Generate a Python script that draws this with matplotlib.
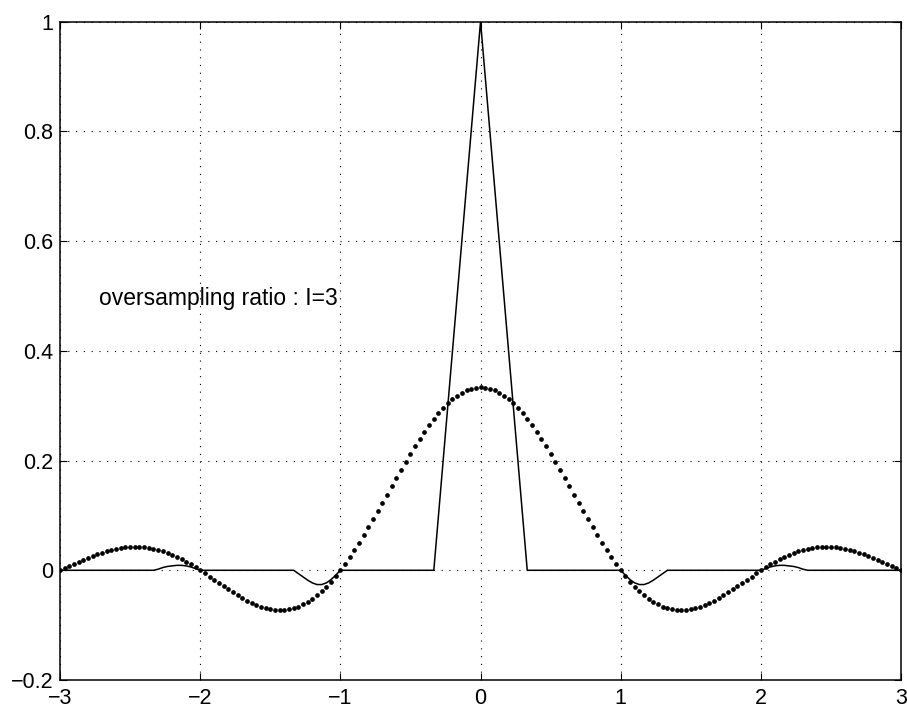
import numpy as np
import matplotlib
matplotlib.use("Agg")
import matplotlib.pyplot as plt

plt.rcParams['font.family'] = ['Liberation Sans', 'DejaVu Sans']

# dotted series: sampled on a grid of step 1/30 from -3 to 3 (181 samples)
dotted_x = np.linspace(-3, 3, 181)
dotted_y = [
    0.0, 0.0037, 0.0075, 0.0113, 0.0151, 0.0187, 0.0223, 0.0257, 0.0288, 0.0318,
    0.0345, 0.0368, 0.0388, 0.0404, 0.0417, 0.0424, 0.0428, 0.0427, 0.0420, 0.0410,
    0.0394, 0.0373, 0.0348, 0.0318, 0.0283, 0.0245, 0.0202, 0.0156, 0.0107, 0.0055,
    0.0, -0.0056, -0.0114, -0.0173, -0.0231, -0.0289, -0.0346, -0.0402, -0.0455, -0.0505,
    -0.0551, -0.0593, -0.0631, -0.0662, -0.0688, -0.0707, -0.0719, -0.0724, -0.0721, -0.0709,
    -0.0689, -0.0660, -0.0623, -0.0576, -0.0520, -0.0455, -0.0381, -0.0298, -0.0207, -0.0107,
    0.0, 0.0115, 0.0236, 0.0364, 0.0498, 0.0637, 0.0780, 0.0926, 0.1075, 0.1226,
    0.1378, 0.1530, 0.1682, 0.1832, 0.1979, 0.2122, 0.2261, 0.2395, 0.2523, 0.2644,
    0.2757, 0.2861, 0.2957, 0.3043, 0.3118, 0.3183, 0.3237, 0.3279, 0.3309, 0.3327,
    0.3333,
    0.3327, 0.3309, 0.3279, 0.3237, 0.3183, 0.3118, 0.3043, 0.2957, 0.2861, 0.2757,
    0.2644, 0.2523, 0.2395, 0.2261, 0.2122, 0.1979, 0.1832, 0.1682, 0.1530, 0.1378,
    0.1226, 0.1075, 0.0926, 0.0780, 0.0637, 0.0498, 0.0364, 0.0236, 0.0115, 0.0,
    -0.0107, -0.0207, -0.0298, -0.0381, -0.0455, -0.0520, -0.0576, -0.0623, -0.0660, -0.0689,
    -0.0709, -0.0721, -0.0724, -0.0719, -0.0707, -0.0688, -0.0662, -0.0631, -0.0593, -0.0551,
    -0.0505, -0.0455, -0.0402, -0.0346, -0.0289, -0.0231, -0.0173, -0.0114, -0.0056, 0.0,
    0.0055, 0.0107, 0.0156, 0.0202, 0.0245, 0.0283, 0.0318, 0.0348, 0.0373, 0.0394,
    0.0410, 0.0420, 0.0427, 0.0428, 0.0424, 0.0417, 0.0404, 0.0388, 0.0368, 0.0345,
    0.0318, 0.0288, 0.0257, 0.0223, 0.0187, 0.0151, 0.0113, 0.0075, 0.0037, 0.0,
]

# solid series: breakpoints
solid_x = [
    -3.0,
    -2.3333, -2.3, -2.2667, -2.2333, -2.2, -2.1667, -2.1333, -2.1, -2.0667, -2.0333, -2.0,
    -1.3333, -1.3, -1.2667, -1.2333, -1.2, -1.1667, -1.1333, -1.1, -1.0667, -1.0333, -1.0,
    -0.3333, 0.0, 0.3333,
    1.0, 1.0333, 1.0667, 1.1, 1.1333, 1.1667, 1.2, 1.2333, 1.2667, 1.3, 1.3333,
    2.0, 2.0333, 2.0667, 2.1, 2.1333, 2.1667, 2.2, 2.2333, 2.2667, 2.3, 2.3333,
    3.0,
]
solid_y = [
    0.0,
    0.0, 0.002, 0.005, 0.007, 0.008, 0.009, 0.009, 0.008, 0.006, 0.003, 0.0,
    0.0, -0.006, -0.012, -0.018, -0.023, -0.026, -0.026, -0.023, -0.017, -0.009, 0.0,
    0.0, 1.0, 0.0,
    0.0, -0.009, -0.017, -0.023, -0.026, -0.026, -0.023, -0.018, -0.012, -0.006, 0.0,
    0.0, 0.003, 0.006, 0.008, 0.009, 0.009, 0.008, 0.007, 0.005, 0.002, 0.0,
    0.0,
]

x_ticks = [-3, -2, -1, 0, 1, 2, 3]
y_ticks = [-0.2, 0, 0.2, 0.4, 0.6, 0.8, 1]
y_ticklabels = ['-0.2', '0', '0.2', '0.4', '0.6', '0.8', '1']
x_ticklabels = ['-3', '-2', '-1', '0', '1', '2', '3']
annotation = 'oversampling ratio : I=3'

fig = plt.figure(figsize=(9.07, 7.08), dpi=100)
ax = fig.add_axes([0.0662, 0.0395, 0.9272, 0.9301])

ax.plot(solid_x, solid_y, color='black', lw=1.1, zorder=3)
ax.plot(dotted_x, dotted_y, linestyle='none', marker='o', ms=3.4,
        markerfacecolor='black', markeredgecolor='black', markeredgewidth=0, zorder=4)

ax.set_xlim(-3, 3)
ax.set_ylim(-0.2, 1)
ax.set_xticks(x_ticks)
ax.set_xticklabels([t.replace('-', '\u2212') for t in x_ticklabels])
ax.set_yticks(y_ticks)
ax.set_yticklabels([t.replace('-', '\u2212') for t in y_ticklabels])

ax.grid(True, color='black', linestyle=(0, (1, 6)), linewidth=0.8)
ax.tick_params(direction='in', length=5, width=0.8, labelsize=15.5,
               top=True, right=True)
ax.tick_params(axis='x', pad=6)
ax.tick_params(axis='y', pad=5)
for s in ax.spines.values():
    s.set_linewidth(1.1)

ax.text(-2.72, 0.495, annotation, fontsize=16.5, ha='left', va='center')

fig.savefig('out.png', dpi=100)
